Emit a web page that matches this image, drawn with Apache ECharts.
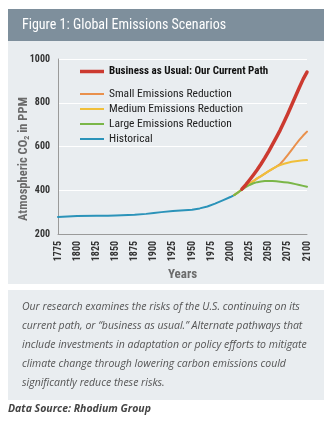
<!DOCTYPE html>
<html><head><meta charset="utf-8">
<script src="https://cdn.jsdelivr.net/npm/echarts@6/dist/echarts.min.js"></script>
<style>html,body{margin:0;padding:0;background:#fff;}#c{width:334px;height:432px;}</style>
</head><body><div id="c"></div>
<script>
var histYears = [1775,1800,1825,1836,1838,1840,1850,1875,1890,1900,1910,1925,1940,1950,1960,1970,1980,1990,2000,2005];
var histVals  = [278, 282, 283, 283, 280, 283, 285, 288, 292, 296, 300, 305, 309, 311, 317, 326, 339, 354, 369, 378];
var futYears  = [2005,2010,2015,2020,2025,2030,2035,2040,2045,2050,2055,2060,2065,2070,2075,2080,2085,2090,2095,2100];
var bauYears  = [2015,2020,2025,2030,2035,2040,2045,2050,2055,2060,2065,2070,2075,2080,2085,2090,2095,2100];
var bauVals   = [405, 425, 447, 470, 494, 520, 548, 578, 610, 642, 675, 712, 750, 790, 830, 870, 908, 940];
var smallVals = [378, 390, 404, 418, 430, 442, 454, 465, 476, 487, 498, 508, 520, 540, 562, 585, 608, 630, 650, 668];
var medVals   = [378, 390, 404, 418, 430, 442, 454, 465, 476, 487, 498, 508, 515, 521, 526, 530, 533, 535, 537, 538];
var largeVals = [378, 390, 403, 414, 424, 432, 437, 440, 442, 442, 442, 441, 439, 437, 435, 432, 428, 424, 420, 416];
var names = ['Business as Usual: Our Current Path','Small Emissions Reduction','Medium Emissions Reduction','Large Emissions Reduction','Historical'];
var colors = ['#cc3a30','#e9904c','#f0bf3a','#7ab648','#2b93b9'];
var captionLines = [
 'Our research examines the risks of the U.S. continuing on its',
 'current path, or \u201cbusiness as usual.\u201d Alternate pathways that',
 'include investments in adaptation or policy efforts to mitigate',
 'climate change through lowering carbon emissions could',
 'significantly reduce these risks.'
];
function pairs(xs, ys){ return xs.map(function(x,i){return [x, ys[i]];}); }
var NF = "'Roboto Condensed','Open Sans Condensed',sans-serif";
function legItem(i){ return {name:names[i], icon:'rect', itemStyle:{color:colors[i], opacity:1}}; }
function line(i, ys, xs, w, z){
  return {name:names[i], type:'line', symbol:'none', showSymbol:false,
    data:pairs(xs, ys), lineStyle:{color:colors[i], width:w, join:'round', cap:'round'}, itemStyle:{color:colors[i]}, z:z};
}
var chart = echarts.init(document.getElementById('c'));
chart.setOption({
  animation:false,
  backgroundColor:'#ffffff',
  graphic:[
    {type:'rect', z:-10, shape:{x:8,y:9,width:316,height:32}, style:{fill:'#7e8f9c'}},
    {type:'rect', z:-10, shape:{x:8,y:41,width:316,height:243}, style:{fill:'#e9edf0'}},
    {type:'rect', z:-10, shape:{x:8,y:290,width:316,height:110}, style:{fill:'#e9edf0'}},
    {type:'text', x:22, y:25, style:{text:'Figure 1: Global Emissions Scenarios', fill:'#ffffff', font:"14px "+NF, verticalAlign:'middle'}},
    {type:'text', x:24, y:159, rotation:Math.PI/2, style:{text:'Atmospheric CO{s|2} in PPM', fill:'#6b6b6b', font:"bold 12.5px "+NF, align:'center', verticalAlign:'middle', rich:{s:{font:"bold 8px "+NF, fill:'#6b6b6b', verticalAlign:'bottom', padding:[6,0,0,0]}}}},
    {type:'text', left:22, top:298, style:{text:captionLines.join('\n'), fill:'#555555', font:"italic 10.5px 'Open Sans',sans-serif", lineHeight:19}},
    {type:'text', left:8, top:404, style:{text:'Data Source: Rhodium Group', fill:'#444444', font:"italic bold 10.5px 'Open Sans',sans-serif"}}
  ],
  grid:{left:58, right:27, top:59, bottom:198},
  legend:[
    {data:[legItem(0)], orient:'vertical', left:80, top:66, padding:0, itemWidth:24, itemHeight:3.5,
     textStyle:{fontFamily:NF, fontWeight:'bold', fontSize:11, color:'#111'}},
    {data:[legItem(1),legItem(2),legItem(3),legItem(4)], orient:'vertical', left:80, top:88, padding:0, itemWidth:24, itemHeight:2, itemGap:3,
     textStyle:{fontFamily:NF, fontSize:11.5, color:'#222'}}
  ],
  xAxis:{type:'value', min:1775, max:2100, interval:25,
    name:'Years', nameLocation:'middle', nameGap:34,
    nameTextStyle:{fontFamily:NF, fontWeight:'bold', fontSize:13, color:'#6b6b6b'},
    axisLine:{lineStyle:{color:'#9a9a9a'}}, axisTick:{show:false}, splitLine:{show:false},
    axisLabel:{rotate:90, fontFamily:NF, fontWeight:'bold', fontSize:10, color:'#333', margin:7,
      formatter:function(v){return String(v);}}},
  yAxis:{type:'value', min:200, max:1000, interval:200,
    axisLine:{show:true, lineStyle:{color:'#9a9a9a'}}, axisTick:{show:false},
    splitLine:{lineStyle:{color:'#ffffff', width:1}},
    axisLabel:{fontFamily:NF, fontWeight:'bold', fontSize:10, color:'#333', margin:8,
      formatter:function(v){return String(v);}}},
  series:[
    line(4, histVals, histYears, 2, 2),
    line(1, smallVals, futYears, 2, 3),
    line(2, medVals, futYears, 2, 4),
    line(3, largeVals, futYears, 2, 5),
    line(0, bauVals, bauYears, 3.5, 6)
  ]
});
</script></body></html>
